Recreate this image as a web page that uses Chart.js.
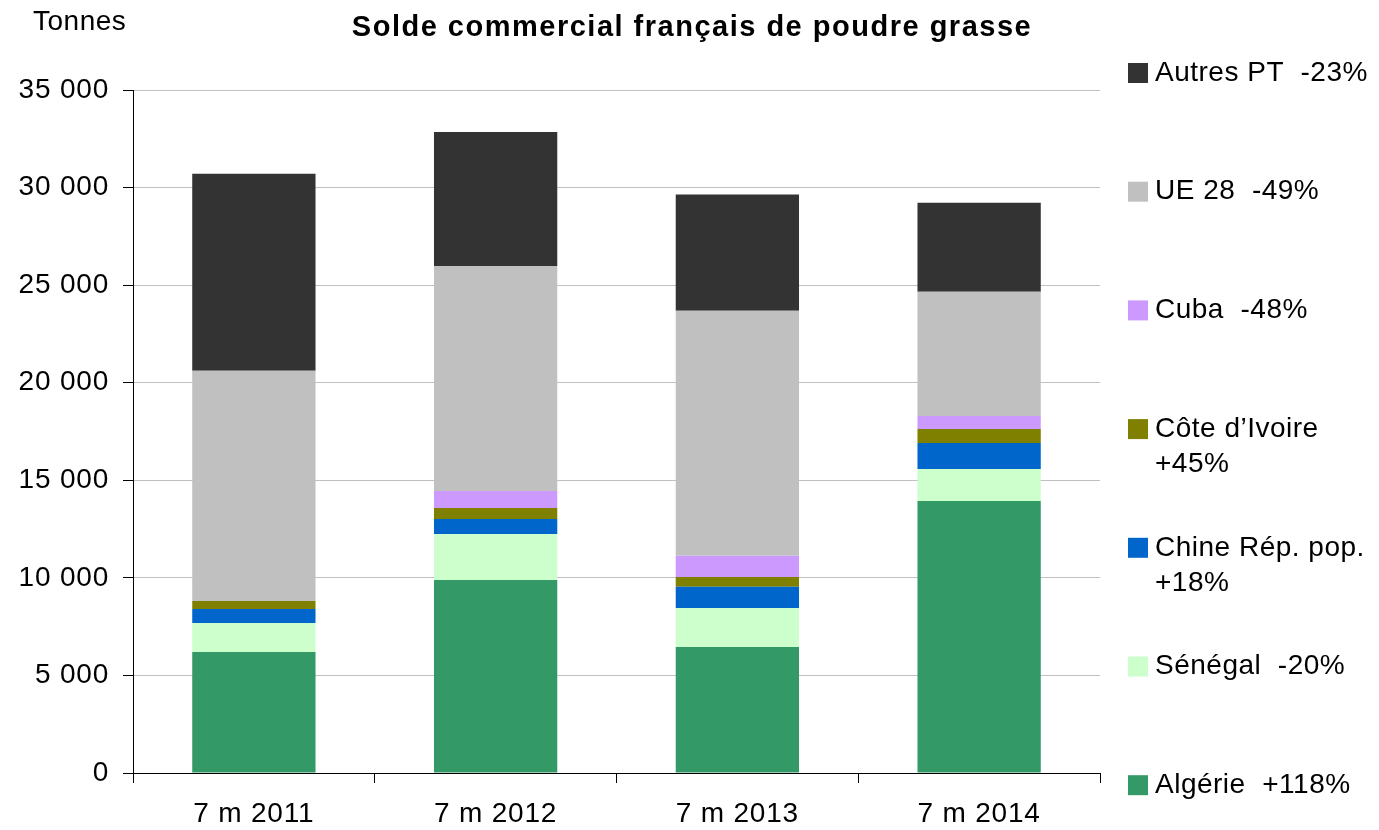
<!DOCTYPE html>
<html>
<head>
<meta charset="utf-8">
<script src="https://cdn.jsdelivr.net/npm/chart.js@4"></script>
<style>
  html, body { margin: 0; padding: 0; background: #fff; }
  #wrap { width: 1379px; height: 830px; position: relative; }
</style>
</head>
<body>
<div id="wrap"><canvas id="myChart" width="1379" height="830"></canvas></div>
<script>
var categories = ["7 m 2011", "7 m 2012", "7 m 2013", "7 m 2014"];

// tonnes
var algerie = [6200, 9890, 6460, 13940];
var senegal = [1490, 2360, 2000, 1640];
var chine = [720, 770, 1080, 1330];
var coteIvoire = [410, 560, 510, 720];
var cuba = [0, 870, 1080, 670];
var ue28 = [11790, 11530, 12560, 6360];
var autres = [10100, 6870, 5950, 4560];

var seriesNames = ["Algérie", "Sénégal", "Chine Rép. pop.", "Côte d’Ivoire", "Cuba", "UE 28", "Autres PT"];
var seriesData = [algerie, senegal, chine, coteIvoire, cuba, ue28, autres];
var seriesColors = ["#339966", "#CCFFCC", "#0066CC", "#808000", "#CC99FF", "#C0C0C0", "#333333"];

// legend lines, top to bottom
var legendLines = [
    ["Autres PT  -23%"],
    ["UE 28  -49%"],
    ["Cuba  -48%"],
    ["Côte d’Ivoire", "+45%"],
    ["Chine Rép. pop.", "+18%"],
    ["Sénégal  -20%"],
    ["Algérie  +118%"]
];
var legendColors = ["#333333", "#C0C0C0", "#CC99FF", "#808000", "#0066CC", "#CCFFCC", "#339966"];

var yTicks = [0, 5000, 10000, 15000, 20000, 25000, 30000, 35000];

var FONT = "'Liberation Sans', Arial, sans-serif";

function fmt(v) {
    return v.toString().replace(/\B(?=(\d{3})+(?!\d))/g, ' ');
}

var datasets = [];
for (var i = 0; i < seriesNames.length; i++) {
    datasets.push({
        label: seriesNames[i],
        data: seriesData[i],
        backgroundColor: seriesColors[i],
        borderWidth: 0,
        categoryPercentage: 1,
        barPercentage: 0.51
    });
}

// the original text is a bit spaced out
var spacing = {
    id: 'spacing',
    beforeLayout: function(chart) { chart.ctx.letterSpacing = '0.8px'; },
    beforeDraw: function(chart) { chart.ctx.letterSpacing = '0.8px'; }
};

// title, unit label and the right-hand legend
var extras = {
    id: 'extras',
    afterDraw: function(chart) {
        var ctx = chart.ctx;
        ctx.save();
        ctx.fillStyle = '#000';
        ctx.textBaseline = 'middle';

        ctx.letterSpacing = '0.5px';
        ctx.font = "28px " + FONT;
        ctx.textAlign = 'left';
        ctx.fillText("Tonnes", 33, 22);

        ctx.letterSpacing = '1.5px';
        ctx.font = "bold 29px " + FONT;
        ctx.textAlign = 'center';
        ctx.fillText("Solde commercial français de poudre grasse", 692, 28);

        ctx.letterSpacing = '0.5px';
        ctx.font = "28px " + FONT;
        ctx.textAlign = 'left';
        var top = 73, step = 118.7;
        for (var i = 0; i < legendLines.length; i++) {
            var y = top + i * step;
            ctx.fillStyle = legendColors[i];
            ctx.fillRect(1128, y - 10, 20, 20);
            ctx.fillStyle = '#000';
            for (var j = 0; j < legendLines[i].length; j++) {
                ctx.fillText(legendLines[i][j], 1155, y + j * 35);
            }
        }
        ctx.restore();
    }
};

new Chart(document.getElementById("myChart"), {
    type: 'bar',
    data: {
        labels: categories,
        datasets: datasets
    },
    plugins: [spacing, extras],
    options: {
        responsive: false,
        animation: false,
        layout: {
            padding: { top: 90, right: 279, left: 0, bottom: 0 }
        },
        plugins: {
            legend: { display: false },
            tooltip: { enabled: false }
        },
        scales: {
            x: {
                stacked: true,
                afterFit: function(s) { s.height = 57; },
                grid: {
                    offset: true,
                    drawOnChartArea: false,
                    tickLength: 10,
                    tickColor: '#000'
                },
                border: { color: '#000', width: 1 },
                ticks: {
                    color: '#000',
                    padding: 14,
                    font: { family: FONT, size: 28 }
                }
            },
            y: {
                stacked: true,
                min: 0,
                max: 35000,
                afterFit: function(s) { s.width = 133; },
                afterBuildTicks: function(s) {
                    s.ticks = yTicks.map(function(v) { return { value: v }; });
                },
                grid: {
                    color: '#c0c0c0',
                    tickColor: '#000',
                    tickLength: 10
                },
                border: { color: '#000', width: 1 },
                ticks: {
                    color: '#000',
                    padding: 14,
                    font: { family: FONT, size: 28 },
                    callback: function(v) { return fmt(v); }
                }
            }
        }
    }
});
</script>
</body>
</html>
